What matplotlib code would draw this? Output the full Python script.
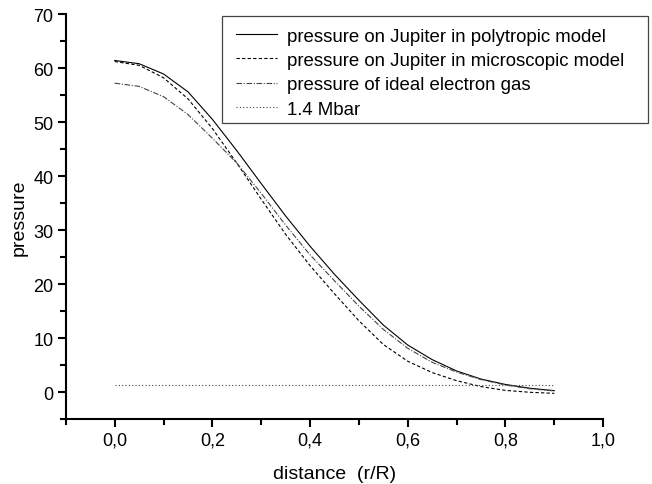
import numpy as np
import matplotlib
matplotlib.use("Agg")
import matplotlib.pyplot as plt
from matplotlib.patches import Rectangle
from matplotlib.ticker import MultipleLocator, FuncFormatter

plt.rcParams['font.family'] = ['Liberation Sans', 'DejaVu Sans']

# distance r/R
r = [0.00, 0.05, 0.10, 0.15, 0.20, 0.25, 0.30, 0.35, 0.40, 0.45,
     0.50, 0.55, 0.60, 0.65, 0.70, 0.75, 0.80, 0.85, 0.90]

p_polytropic = [61.4, 60.8, 58.9, 55.6, 50.5, 44.7, 38.6, 32.6, 27.0, 21.8,
                17.0, 12.4, 8.7, 6.0, 3.9, 2.4, 1.4, 0.7, 0.25]
p_microscopic = [61.2, 60.5, 58.2, 54.3, 48.8, 42.4, 35.7, 29.2, 23.4, 18.2,
                 13.2, 8.8, 5.7, 3.6, 2.1, 1.0, 0.3, -0.05, -0.25]
p_electron = [57.2, 56.6, 54.7, 51.4, 47.0, 42.4, 36.8, 30.9, 25.4, 20.6,
              15.9, 11.6, 8.1, 5.5, 3.7, 2.3, 1.3, 0.6, 0.2]
mbar_x = [0.0, 0.9]
mbar_y = [1.3, 1.3]

labels = ["pressure on Jupiter in polytropic model",
          "pressure on Jupiter in microscopic model",
          "pressure of ideal electron gas",
          "1.4 Mbar"]

fig = plt.figure(figsize=(6.52, 4.85), dpi=100)
ax = fig.add_axes([0.101, 0.134, 0.824, 0.835])

ax.plot(r, p_polytropic, color="k", lw=0.8, ls="-", label=labels[0])
ax.plot(r, p_microscopic, color="k", lw=0.8, ls=(0, (3, 2)), label=labels[1])
ax.plot(r, p_electron, color="#444444", lw=0.8, ls=(0, (5, 1.5, 1, 1.5)), label=labels[2])
ax.plot(mbar_x, mbar_y, color="#444444", lw=0.8, ls=(0, (1, 2)), label=labels[3])

ax.set_xlim(-0.1, 1.0)
ax.set_ylim(-5, 70)
ax.xaxis.set_major_locator(MultipleLocator(0.2))
ax.xaxis.set_minor_locator(MultipleLocator(0.1))
ax.yaxis.set_major_locator(MultipleLocator(10))
ax.yaxis.set_minor_locator(MultipleLocator(5))
ax.xaxis.set_major_formatter(FuncFormatter(lambda v, p: f"{v:.1f}".replace(".", ",")))

for s in ["top", "right"]:
    ax.spines[s].set_visible(False)
for s in ["left", "bottom"]:
    ax.spines[s].set_linewidth(1.5)
ax.tick_params(which="major", direction="out", length=6, width=1.5, labelsize=13, pad=3)
ax.tick_params(which="minor", direction="out", length=4, width=1.5)

ax.set_xlabel("distance  (r/R)", fontsize=14, labelpad=12)
ax.set_ylabel("pressure", fontsize=14, labelpad=4)

# legend without frame, box drawn separately (wider side padding than top/bottom)
leg = ax.legend(loc="upper left", bbox_to_anchor=(0.362, 0.941), bbox_transform=fig.transFigure,
                fontsize=13.4, frameon=False, handlelength=2.2,
                handletextpad=0.55, labelspacing=0.39, borderpad=0, borderaxespad=0)
fig.patches.append(Rectangle((0.3405, 0.7443), 0.6534, 0.2206, transform=fig.transFigure,
                             fill=False, edgecolor="#444444", linewidth=0.9))

fig.savefig("out.png", dpi=100)
